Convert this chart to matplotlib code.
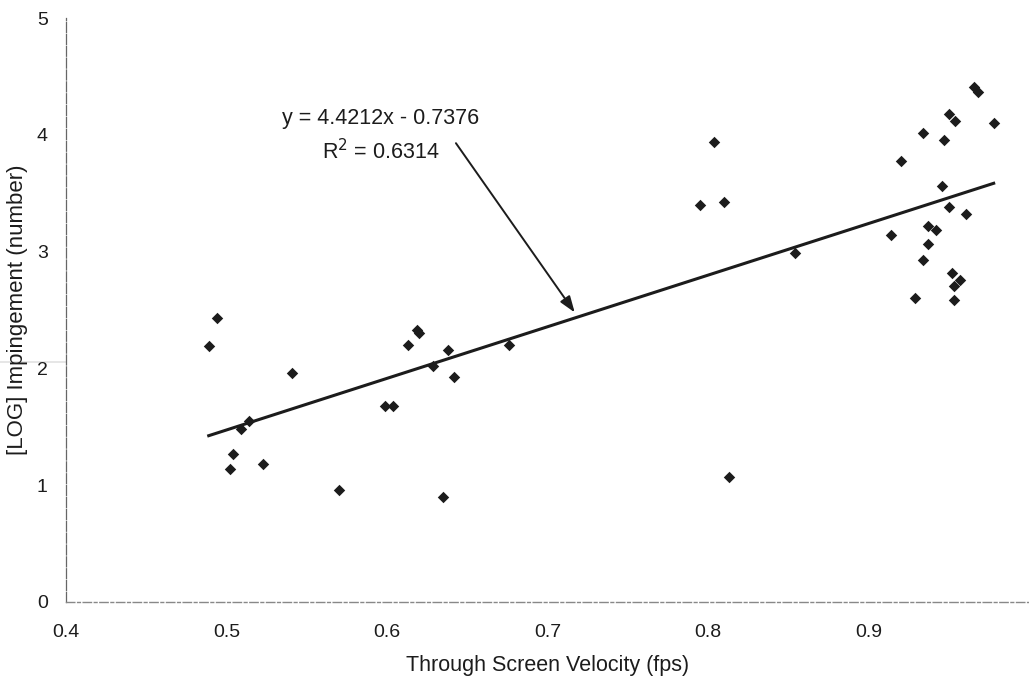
import matplotlib
matplotlib.use("Agg")
import matplotlib.pyplot as plt
from matplotlib.lines import Line2D
import numpy as np

plt.rcParams['font.family'] = ['Liberation Sans', 'DejaVu Sans']

velocity = [0.489, 0.494, 0.541, 0.514, 0.509, 0.504, 0.502, 0.523, 0.570, 0.599,
            0.604, 0.613, 0.619, 0.620, 0.629, 0.638, 0.642, 0.635, 0.676,
            0.795, 0.804, 0.810, 0.813, 0.854, 0.914, 0.920, 0.929, 0.934, 0.934,
            0.937, 0.937, 0.942, 0.946, 0.947, 0.950, 0.950, 0.952, 0.953, 0.953,
            0.954, 0.957, 0.961, 0.966, 0.968, 0.978]
log_imp = [2.19, 2.43, 1.96, 1.55, 1.48, 1.27, 1.14, 1.18, 0.96, 1.68,
           1.68, 2.20, 2.33, 2.30, 2.02, 2.16, 1.93, 0.90, 2.20,
           3.40, 3.94, 3.43, 1.07, 2.99, 3.14, 3.78, 2.60, 4.02, 2.93,
           3.07, 3.22, 3.19, 3.56, 3.96, 3.38, 4.18, 2.82, 2.71, 2.59,
           4.12, 2.76, 3.32, 4.41, 4.37, 4.10]
slope = 4.4212
intercept = -0.7376
r2 = 0.6314
x_ticks = [0.4, 0.5, 0.6, 0.7, 0.8, 0.9]
x_tick_labels = ['0.4', '0.5', '0.6', '0.7', '0.8', '0.9']
y_ticks = [0, 1, 2, 3, 4, 5]

ink = '#1c1c1c'

fig = plt.figure(figsize=(10.29, 6.76), dpi=100)
ax = fig.add_axes([0.064, 0.1095, 0.936, 0.8635])

# faint scan artifact line
fig.add_artist(Line2D([0, 1], [0.4645, 0.4645], color='#e2e2e2', lw=1.2, zorder=0))

ax.scatter(velocity, log_imp, marker='D', s=34, color=ink, zorder=3, linewidths=0)

xs = np.array([min(velocity), max(velocity)])
ax.plot(xs, slope * xs + intercept, color=ink, lw=2.2, zorder=2)

ax.text(0.596, 4.14, f"y = {slope}x - {abs(intercept)}", ha='center', va='center',
        fontsize=15.5, color=ink)
ax.text(0.596, 3.86, f"R$^2$ = {r2}", ha='center', va='center', fontsize=15.5, color=ink)
ax.annotate('', xy=(0.717, 2.48), xytext=(0.643, 3.93),
            arrowprops=dict(arrowstyle='-|>,head_length=0.7,head_width=0.25', color=ink, lw=1.4,
                            mutation_scale=14, shrinkA=0, shrinkB=0))

ax.set_xlim(0.4, 1.0)
ax.set_ylim(0, 5)
ax.set_xticks(x_ticks)
ax.set_xticklabels(x_tick_labels)
ax.set_yticks(y_ticks)
ax.tick_params(axis='both', length=0, labelsize=14, colors=ink)
ax.tick_params(axis='x', pad=16)
ax.tick_params(axis='y', pad=13)

for s in ['top', 'right']:
    ax.spines[s].set_visible(False)
ax.spines['left'].set_color('#666666')
ax.spines['left'].set_linewidth(0.9)
ax.spines['left'].set_linestyle((0, (8, 1.5)))
ax.spines['bottom'].set_color('#888888')
ax.spines['bottom'].set_linewidth(1.0)
ax.spines['bottom'].set_linestyle((0, (6, 2, 2, 2)))

ax.set_xlabel('Through Screen Velocity (fps)', fontsize=15.5, color=ink, labelpad=10)
ax.set_ylabel('[LOG] Impingement (number)', fontsize=16, color=ink, labelpad=6)

fig.savefig('out.png', dpi=100, facecolor='white')
